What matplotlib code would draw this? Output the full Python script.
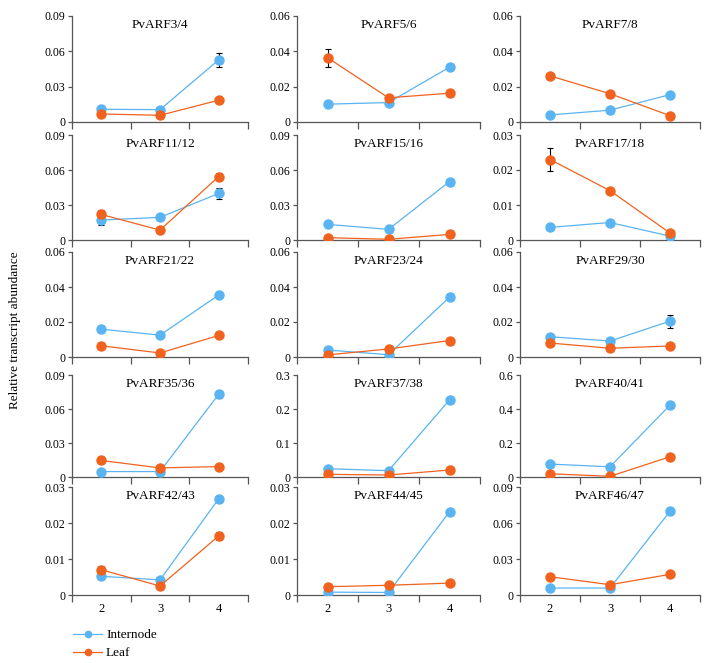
import matplotlib.pyplot as plt
from matplotlib.lines import Line2D
from matplotlib.ticker import FixedLocator, FuncFormatter

plt.rcParams['font.family'] = 'Liberation Serif'

stages = [2, 3, 4]

titles = ['PvARF3/4', 'PvARF5/6', 'PvARF7/8',
          'PvARF11/12', 'PvARF15/16', 'PvARF17/18',
          'PvARF21/22', 'PvARF23/24', 'PvARF29/30',
          'PvARF35/36', 'PvARF37/38', 'PvARF40/41',
          'PvARF42/43', 'PvARF44/45', 'PvARF46/47']

ymax = [0.09, 0.06, 0.06,
        0.09, 0.09, 0.03,
        0.06, 0.06, 0.06,
        0.09, 0.3, 0.6,
        0.03, 0.03, 0.09]

internode = [[0.0108, 0.0105, 0.0527], [0.0101, 0.0110, 0.0310], [0.0040, 0.0067, 0.0155],
             [0.0171, 0.0194, 0.0399], [0.0134, 0.0091, 0.0501], [0.0036, 0.0050, 0.0011],
             [0.0159, 0.0125, 0.0354], [0.0040, 0.0013, 0.0342], [0.0116, 0.0091, 0.0205],
             [0.0048, 0.0048, 0.0730], [0.0244, 0.0186, 0.2267], [0.0760, 0.0600, 0.4230],
             [0.0052, 0.0042, 0.0267], [0.0008, 0.0007, 0.0231], [0.0058, 0.0058, 0.0698]]

internode_err = [[0, 0, 0.0062], [0, 0, 0], [0, 0, 0],
                 [0.0040, 0, 0.0050], [0, 0, 0], [0, 0, 0],
                 [0, 0, 0], [0, 0, 0], [0, 0, 0.0037],
                 [0, 0, 0.0030], [0, 0, 0], [0, 0, 0],
                 [0, 0, 0], [0, 0, 0], [0, 0, 0]]

leaf = [[0.0068, 0.0057, 0.0185], [0.0364, 0.0137, 0.0163], [0.0261, 0.0160, 0.0036],
        [0.0219, 0.0085, 0.0544], [0.0020, 0.0006, 0.0048], [0.0230, 0.0141, 0.0020],
        [0.0064, 0.0023, 0.0123], [0.0012, 0.0046, 0.0094], [0.0080, 0.0050, 0.0063],
        [0.0146, 0.0080, 0.0092], [0.0078, 0.0059, 0.0205], [0.0190, 0.0040, 0.1190],
        [0.0070, 0.0025, 0.0164], [0.0023, 0.0027, 0.0033], [0.0152, 0.0086, 0.0172]]

leaf_err = [[0, 0, 0], [0.0050, 0, 0], [0, 0, 0],
            [0.0040, 0, 0.0030], [0, 0, 0], [0.0032, 0, 0],
            [0, 0, 0], [0, 0, 0], [0.0012, 0, 0],
            [0, 0, 0], [0, 0, 0], [0, 0, 0],
            [0.0010, 0, 0.0012], [0, 0, 0], [0, 0, 0]]

c_int = '#5ab4f2'
c_leaf = '#f0621e'
axis_col = '#555555'

W, H = 713, 663
cols = [(72, 248), (297, 480), (520, 700)]
rows = [(16, 122), (135, 240), (252, 357), (375, 477), (487, 595)]

fig = plt.figure(figsize=(W / 100, H / 100), dpi=100)


def fmt(v, pos):
    if v == 0:
        return '0'
    return ('%g' % v)


for i, title in enumerate(titles):
    r, c = divmod(i, 3)
    x0, x1 = cols[c]
    y0, y1 = rows[r]
    ax = fig.add_axes([x0 / W, 1 - y1 / H, (x1 - x0) / W, (y1 - y0) / H])
    ax.patch.set_alpha(0)

    for vals, errs, col in [(internode[i], internode_err[i], c_int), (leaf[i], leaf_err[i], c_leaf)]:
        ax.plot(stages, vals, color=col, lw=0.9, marker='o', ms=6.5, zorder=3)
        for x, v, e in zip(stages, vals, errs):
            if e > 0:
                ax.errorbar(x, v, yerr=e, color='black', lw=0.8, capsize=2.5, capthick=0.8, zorder=2)

    ax.set_xlim(1.5, 4.5)
    ax.set_ylim(0, ymax[i])
    ax.set_yticks([ymax[i] * k / 3 for k in range(4)])
    ax.yaxis.set_major_formatter(FuncFormatter(fmt))
    ax.xaxis.set_major_locator(FixedLocator([1.5, 2.5, 3.5, 4.5]))
    ax.xaxis.set_minor_locator(FixedLocator(stages))
    ax.set_xticklabels([])
    if r == 4:
        ax.set_xticklabels([str(s) for s in stages], minor=True)
    ax.tick_params(axis='x', which='major', length=5, width=0.9, color=axis_col, direction='out')
    ax.tick_params(axis='x', which='minor', length=0, labelsize=9, pad=6)
    ax.tick_params(axis='y', length=3, width=0.9, color=axis_col, labelsize=8.5, pad=2)
    for s in ['top', 'right']:
        ax.spines[s].set_visible(False)
    for s in ['left', 'bottom']:
        ax.spines[s].set_color(axis_col)
        ax.spines[s].set_linewidth(0.9)
    ax.text(0.5, 0.915, title, transform=ax.transAxes, ha='center', va='center', fontsize=9.5)

fig.text(15 / W, 1 - 330 / H, 'Relative transcript abundance', rotation=90,
         ha='center', va='center', fontsize=9.5)

handles = [Line2D([], [], color=c_int, lw=0.9, marker='o', ms=4.5),
           Line2D([], [], color=c_leaf, lw=0.9, marker='o', ms=4.5)]
fig.legend(handles, ['Internode', 'Leaf'], loc='upper left', bbox_to_anchor=(73 / W, 1 - 629 / H),
           frameon=False, fontsize=9.5, handlelength=2.2, handletextpad=0.3, labelspacing=0.45,
           borderpad=0, borderaxespad=0)

fig.savefig('out.png', dpi=100)
